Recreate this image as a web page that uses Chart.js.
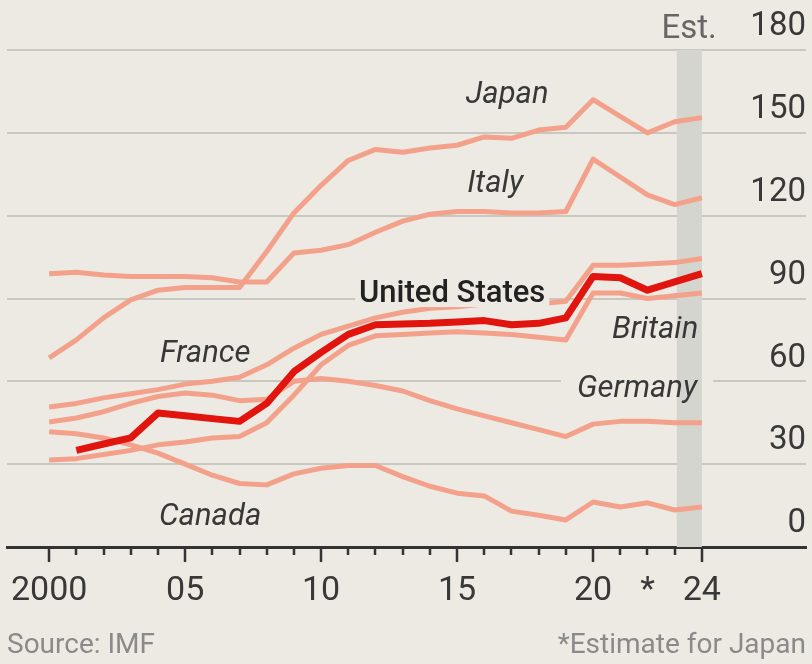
<!DOCTYPE html>
<html lang="en">
<head>
    <meta charset="UTF-8">
    <title>Net government debt, % of GDP</title>
    <script src="https://cdn.jsdelivr.net/npm/chart.js@4/dist/chart.umd.min.js"></script>
    <style>
        html, body {
            margin: 0;
            padding: 0;
            background: #eceae3;
        }
        #wrap {
            width: 812px;
            height: 664px;
        }
    </style>
</head>
<body>
<div id="wrap"><canvas id="chart" width="812" height="664"></canvas></div>

<script>
    // years and series (net debt, % of GDP)
    const years = [2000, 2001, 2002, 2003, 2004, 2005, 2006, 2007, 2008, 2009, 2010, 2011, 2012,
                   2013, 2014, 2015, 2016, 2017, 2018, 2019, 2020, 2021, 2022, 2023, 2024];

    const japan   = [68.5, 75, 83, 89.5, 93, 94, 94, 94, 107, 121, 131, 140, 144,
                     143, 144.5, 145.5, 148.5, 148, 151, 152, 162, 156, 150, 154, 155.5];
    const italy   = [99, 99.5, 98.5, 98, 98, 98, 97.5, 96, 96, 106.5, 107.5, 109.5, 114,
                     118, 120.5, 121.5, 121.5, 121, 121, 121.5, 140.5, 134, 127.5, 124, 126.5];
    const usa     = [null, 35, 37.3, 39.5, 48.5, 47.5, 46.5, 45.5, 52, 63.5, 70.5, 77, 80.5,
                     80.8, 81, 81.5, 82, 80.5, 81, 83, 98, 97.5, 93, 96, 99];
    const france  = [50.7, 52, 54, 55.5, 57, 59, 60, 61.5, 66, 72, 77, 80, 83,
                     85, 86.5, 87, 88, 88, 88, 89, 102, 102, 102.5, 103, 104.5];
    const britain = [31.5, 32, 33.5, 35, 37, 38, 39.5, 40, 45, 55, 66, 73, 76.5,
                     77, 77.5, 78, 77.5, 77, 76, 75, 92, 92, 90, 91, 92];
    const germany = [45.3, 46.7, 49, 52, 54.5, 55.8, 55, 53, 53.5, 60, 61, 60, 58.5,
                     56.5, 53, 50, 47.5, 45, 42.5, 40, 44.5, 45.5, 45.5, 45, 45];
    const canada  = [41.7, 41, 39.5, 37, 34, 30, 26, 23, 22.5, 26.5, 28.5, 29.5, 29.5,
                     25.5, 22, 19.5, 18.5, 13, 11.5, 9.8, 16.3, 14.5, 16, 13.4, 14.5];

    const xTickYears = [2000, 2005, 2010, 2015, 2020, 2022, 2024];
    const xTickText  = ['2000', '05', '10', '15', '20', '*', '24'];
    const majorYears = [2000, 2005, 2010, 2015, 2020, 2024];
    const yTickValues = [0, 30, 60, 90, 120, 150, 180];

    const estimateBand = [2023.08, 2024];

    const bg = '#eceae3';
    const lightRed = '#f3a18b';
    const darkRed = '#e1140e';
    const ink = '#383838';

    // series labels, placed in data units (x = year, y = value at text baseline)
    const seriesLabels = [
        { text: 'Japan',         x: 2016.84, y: 160.8, italic: true },
        { text: 'Italy',         x: 2016.40, y: 128.6, italic: true },
        { text: 'United States', x: 2014.82, y: 88.7,  italic: false, knockout: true },
        { text: 'Britain',       x: 2022.28, y: 75.7,  italic: true },
        { text: 'France',        x: 2005.74, y: 67.0,  italic: true },
        { text: 'Germany',       x: 2021.62, y: 54.3,  italic: true },
        { text: 'Canada',        x: 2005.92, y: 8.0,   italic: true }
    ];

    function toPoints(values) {
        return years.map((yr, i) => ({ x: yr, y: values[i] }));
    }

    function labelFont(l) {
        return l.italic ? 'italic 400 31px Roboto' : '500 31px Roboto';
    }

    const decor = {
        id: 'decor',
        beforeDraw(chart) {
            const ctx = chart.ctx;
            ctx.save();
            ctx.fillStyle = bg;
            ctx.fillRect(0, 0, chart.width, chart.height);
            ctx.restore();
        },
        beforeDatasetsDraw(chart) {
            const { ctx, chartArea, scales: { x, y } } = chart;
            ctx.save();
            // Germany label sits on the 60 gridline, clear it first
            const g = seriesLabels.find(l => l.text === 'Germany');
            ctx.font = labelFont(g);
            const gw = ctx.measureText(g.text).width;
            const gx = x.getPixelForValue(g.x);
            const gy = y.getPixelForValue(g.y);
            ctx.fillStyle = bg;
            ctx.fillRect(gx - gw / 2 - 16, gy - 28, gw + 32, 34);

            // estimate band
            const bx0 = x.getPixelForValue(estimateBand[0]);
            const bx1 = x.getPixelForValue(estimateBand[1]);
            ctx.fillStyle = '#d5d5cf';
            ctx.fillRect(bx0, chartArea.top, bx1 - bx0, chartArea.bottom - chartArea.top);
            ctx.restore();
        },
        afterDatasetsDraw(chart) {
            const { ctx, scales: { x, y } } = chart;
            ctx.save();
            ctx.textAlign = 'center';
            ctx.textBaseline = 'alphabetic';
            seriesLabels.forEach(l => {
                ctx.font = labelFont(l);
                const px = x.getPixelForValue(l.x);
                const py = y.getPixelForValue(l.y);
                if (l.knockout) {
                    const w = ctx.measureText(l.text).width;
                    ctx.fillStyle = bg;
                    ctx.fillRect(px - w / 2 - 4, py - 27, w + 8, 32);
                }
                ctx.fillStyle = l.knockout ? '#222' : ink;
                ctx.fillText(l.text, px, py);
            });

            // "Est." over the band
            ctx.font = '400 33px Roboto';
            ctx.fillStyle = '#666';
            ctx.fillText('Est.', x.getPixelForValue(2023.53), y.getPixelForValue(184.4));
            ctx.restore();
        },
        afterDraw(chart) {
            const { ctx, chartArea, scales: { x } } = chart;
            ctx.save();
            // year tick marks under the axis
            ctx.strokeStyle = '#333';
            ctx.lineWidth = 2.5;
            for (let yr = years[0]; yr <= years[years.length - 1]; yr++) {
                const px = Math.round(x.getPixelForValue(yr));
                const len = majorYears.includes(yr) ? 15 : 8;
                ctx.beginPath();
                ctx.moveTo(px, chartArea.bottom);
                ctx.lineTo(px, chartArea.bottom + len);
                ctx.stroke();
            }
            // footer
            ctx.font = '400 28px Roboto';
            ctx.fillStyle = '#8a8a8a';
            ctx.textBaseline = 'alphabetic';
            ctx.textAlign = 'left';
            ctx.fillText('Source: IMF', 7, 653);
            ctx.textAlign = 'right';
            ctx.fillText('*Estimate for Japan', 806, 653);
            ctx.restore();
        }
    };

    function lightLine(label, values) {
        return {
            label: label,
            data: toPoints(values),
            borderColor: lightRed,
            borderWidth: 5,
            borderJoinStyle: 'round',
            pointRadius: 0,
            tension: 0,
            fill: false
        };
    }

    new Chart(document.getElementById('chart'), {
        type: 'line',
        data: {
            datasets: [
                {
                    label: 'United States',
                    data: toPoints(usa),
                    borderColor: darkRed,
                    borderWidth: 7,
                    borderJoinStyle: 'round',
                    pointRadius: 0,
                    tension: 0,
                    fill: false
                },
                lightLine('Japan', japan),
                lightLine('Italy', italy),
                lightLine('France', france),
                lightLine('Britain', britain),
                lightLine('Germany', germany),
                lightLine('Canada', canada)
            ]
        },
        options: {
            responsive: false,
            animation: false,
            devicePixelRatio: 1,
            events: [],
            layout: { padding: { top: 50, left: 7, right: 6, bottom: 0 } },
            plugins: {
                legend: { display: false },
                tooltip: { enabled: false }
            },
            scales: {
                x: {
                    type: 'linear',
                    min: 1998.45,
                    max: 2027.83,
                    afterBuildTicks: s => { s.ticks = xTickYears.map(v => ({ value: v })); },
                    afterFit: s => {
                        s.height = 117;
                        s.paddingLeft = 0;
                        s.paddingRight = 0;
                    },
                    grid: { display: false },
                    border: { display: true, color: '#333', width: 3 },
                    ticks: {
                        autoSkip: false,
                        maxRotation: 0,
                        padding: 16,
                        color: ink,
                        font: { family: 'Roboto', size: 34 },
                        callback: v => {
                            const i = xTickYears.indexOf(v);
                            return i >= 0 ? xTickText[i] : '';
                        }
                    }
                },
                y: {
                    position: 'right',
                    min: 0,
                    max: 180,
                    afterBuildTicks: s => { s.ticks = yTickValues.map(v => ({ value: v })); },
                    afterFit: s => {
                        s.width = 0;
                        s.paddingTop = 0;
                        s.paddingBottom = 0;
                    },
                    grid: { color: '#c9c8c0', lineWidth: 2, drawTicks: false },
                    border: { display: false },
                    ticks: {
                        mirror: true,
                        padding: 0,
                        labelOffset: -23,
                        color: ink,
                        font: { family: 'Roboto', size: 33 }
                    }
                }
            }
        },
        plugins: [decor]
    });
</script>
</body>
</html>
